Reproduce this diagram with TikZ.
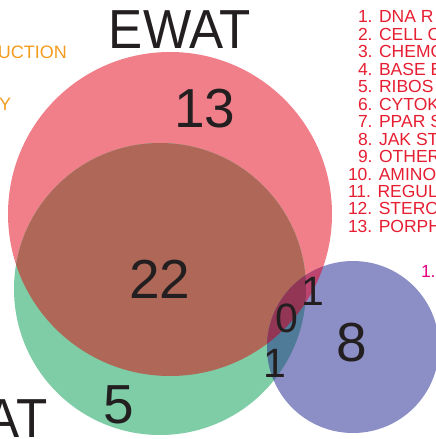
\documentclass[tikz,border=0pt]{standalone}
\usepackage{fontspec}
\setmainfont{Liberation Sans}
\definecolor{redc}{HTML}{F07F89}
\definecolor{greenc}{HTML}{7FCDA6}
\definecolor{bluec}{HTML}{8C8EC6}
\definecolor{rgc}{HTML}{AF6757}
\definecolor{rbc}{HTML}{BC4570}
\definecolor{gbc}{HTML}{4F7A98}
\definecolor{rgbc}{HTML}{933656}
\definecolor{ink}{HTML}{231F20}
\definecolor{listred}{HTML}{E61E32}
\definecolor{orangec}{HTML}{F39C1E}
\definecolor{magc}{HTML}{E4007F}
\begin{document}
\begin{tikzpicture}[x=1pt,y=-1pt,
  every node/.style={inner sep=0pt,outer sep=0pt},
  title/.style={font=\fontsize{55}{60}\selectfont,text=ink,xscale=0.93},
  bignum/.style={font=\fontsize{55}{60}\selectfont,text=ink},
  smallnum/.style={font=\fontsize{41}{46}\selectfont,text=ink},
  listitem/.style={font=\fontsize{17.5}{20}\selectfont,text=listred,anchor=base west},
  orangeitem/.style={font=\fontsize{18}{20}\selectfont,text=orangec,anchor=base west},
  magitem/.style={font=\fontsize{17.5}{20}\selectfont,text=magc,anchor=base west}]
\useasboundingbox (0,0) rectangle (436,439);
\coordinate (R) at (170,214);
\coordinate (G) at (160,289);
\coordinate (B) at (353,347);
% base circles
\fill[redc] (R) circle[radius=162pt];
\fill[greenc] (G) circle[radius=146pt];
\fill[bluec] (B) circle[radius=86pt];
% pairwise overlaps
\begin{scope}
  \clip (R) circle[radius=162pt];
  \fill[rgc] (G) circle[radius=146pt];
\end{scope}
\begin{scope}
  \clip (R) circle[radius=162pt];
  \fill[rbc] (B) circle[radius=86pt];
\end{scope}
\begin{scope}
  \clip (G) circle[radius=146pt];
  \fill[gbc] (B) circle[radius=86pt];
\end{scope}
\begin{scope}
  \clip (R) circle[radius=162pt];
  \clip (G) circle[radius=146pt];
  \fill[rgbc] (B) circle[radius=86pt];
\end{scope}
% titles
\node[title,anchor=base] (ewat) at (180,48) {EWAT};
\node[title,anchor=base west] (at) at (-14,437) {AT};
% counts
\node[bignum] (n13) at (205,109) {13};
\node[bignum] (n22) at (160,279) {22};
\node[bignum] (n5) at (119,405) {5};
\node[bignum] (n8) at (352,343) {8};
\node[smallnum] (n0) at (287,318) {0};
\node[smallnum] (n1a) at (313,291) {1};
\node[smallnum] (n1b) at (275,363) {1};
% list
\node[listitem] (l1) at (358,23) {1. DNA R};
\node[listitem] (l2) at (358,40.45) {2. CELL C};
\node[listitem] (l3) at (358,57.9) {3. CHEMO};
\node[listitem] (l4) at (358,75.35) {4. BASE E};
\node[listitem] (l5) at (358,92.8) {5. RIBOS};
\node[listitem] (l6) at (358,110.25) {6. CYTOK};
\node[listitem] (l7) at (358,127.7) {7. PPAR S};
\node[listitem] (l8) at (358,145.15) {8. JAK ST};
\node[listitem] (l9) at (358,162.6) {9. OTHER};
\node[listitem] (l10) at (348,180.05) {10. AMINO};
\node[listitem] (l11) at (348,197.5) {11. REGUL};
\node[listitem] (l12) at (348,214.95) {12. STERO};
\node[listitem] (l13) at (348,232.4) {13. PORPH};
\node[magitem] (m1) at (421,277) {1.};
% orange list (cropped)
\node[orangeitem] (o1) at (-2,58) {UCTION};
\node[orangeitem] (o2) at (-1,110) {Y};
\end{tikzpicture}
\end{document}
